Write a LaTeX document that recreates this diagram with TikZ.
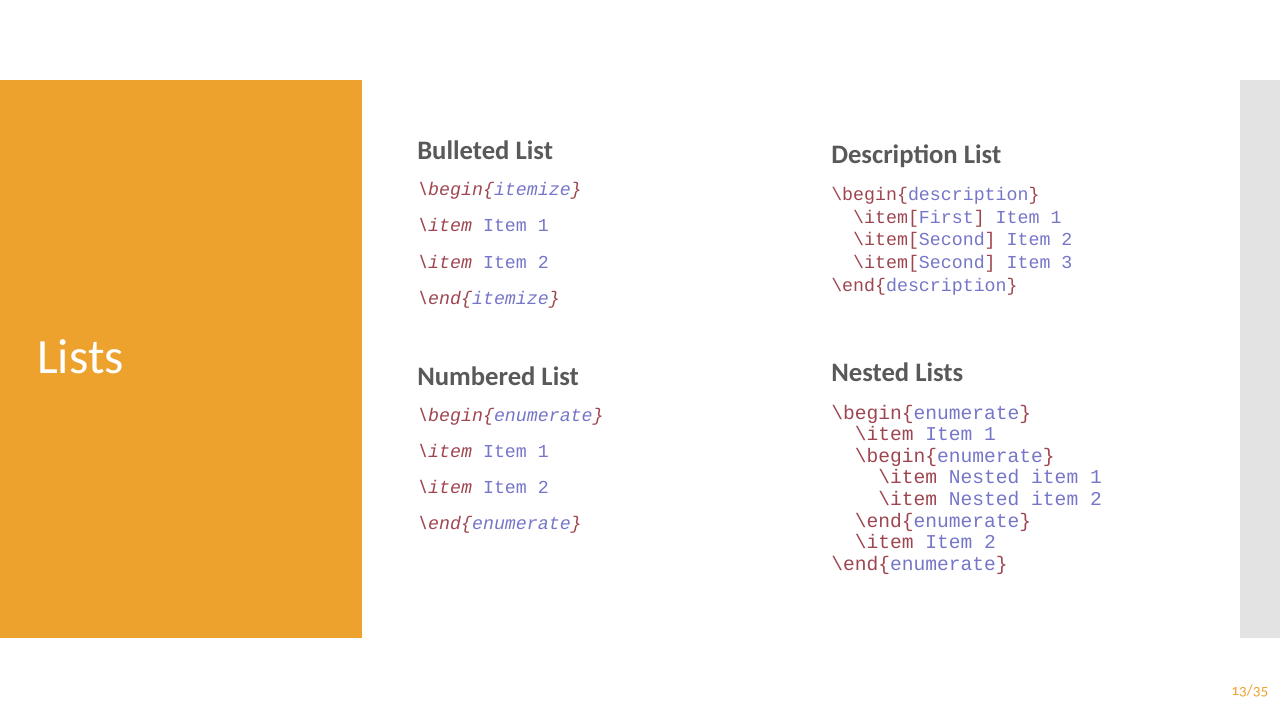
\documentclass[tikz,border=0pt]{standalone}
\usepackage{fontspec}
\setmainfont{Carlito}
\setmonofont{Liberation Mono}
\definecolor{orange}{HTML}{EEA22E}
\definecolor{stripgray}{HTML}{E3E3E3}
\definecolor{headgray}{HTML}{595959}
\definecolor{cmdred}{HTML}{9E4650}
\definecolor{argblue}{HTML}{7676C8}
\newcommand{\cmdtxt}[1]{\textcolor{cmdred}{#1}}
\newcommand{\argtxt}[1]{\textcolor{argblue}{#1}}
\newcommand{\bs}{\textbackslash}
\newcommand{\ind}{\phantom{xx}}
\newcommand{\envline}[2]{\cmdtxt{\bs #1\{}\argtxt{#2}\cmdtxt{\}}}
\newcommand{\itemline}[1]{\cmdtxt{\bs item} \argtxt{#1}}
\newcommand{\descline}[2]{\cmdtxt{\bs item[}\argtxt{#1}\cmdtxt{]} \argtxt{#2}}

\begin{document}
\begin{tikzpicture}[x=0.75pt,y=-0.75pt,
    heading/.style={anchor=base west, inner sep=0pt, text=headgray, font=\fontsize{20}{24}\selectfont\bfseries},
    code/.style={anchor=base west, inner sep=0pt, font=\fontsize{13.7}{16}\ttfamily},
    codeit/.style={code, font=\fontsize{13.7}{16}\ttfamily\itshape},
    codebig/.style={code, font=\fontsize{14.7}{17}\ttfamily}]
    \useasboundingbox (0,0) rectangle (1280,720);
    % Draw the title band and the side strip
    \fill[orange] (0,80) rectangle (362,638);
    \fill[stripgray] (1240,80) rectangle (1280,638);
    \node[anchor=base west, inner sep=0pt, text=white, font=\fontsize{37}{40}\selectfont] (title) at (37,373) {Lists};
    % Headings
    \node[heading] (bul) at (417,160) {Bulleted List};
    \node[heading] (num) at (417,385) {Numbered List};
    \node[heading] (desc) at (831,164) {Description List};
    \node[heading] (nest) at (831,381) {Nested Lists};
    % Bulleted list code
    \foreach \txt [count=\i] in {{\envline{begin}{itemize}},{\itemline{\upshape Item 1}},{\itemline{\upshape Item 2}},{\envline{end}{itemize}}}{
        \node[codeit] (bul-\i) at (417,{196+36*(\i-1)}) {\txt};
    }
    % Numbered list code
    \foreach \txt [count=\i] in {{\envline{begin}{enumerate}},{\itemline{\upshape Item 1}},{\itemline{\upshape Item 2}},{\envline{end}{enumerate}}}{
        \node[codeit] (num-\i) at (417,{421+36.3*(\i-1)}) {\txt};
    }
    % Description list code
    \foreach \txt [count=\i] in {{\envline{begin}{description}},
                                 {\ind\descline{First}{Item 1}},
                                 {\ind\descline{Second}{Item 2}},
                                 {\ind\descline{Second}{Item 3}},
                                 {\envline{end}{description}}}{
        \node[code] (desc-\i) at (831,{201+22.5*(\i-1)}) {\txt};
    }
    % Nested list code
    \foreach \txt [count=\i] in {{\envline{begin}{enumerate}},
                                 {\ind\itemline{Item 1}},
                                 {\ind\envline{begin}{enumerate}},
                                 {\ind\ind\itemline{Nested item 1}},
                                 {\ind\ind\itemline{Nested item 2}},
                                 {\ind\envline{end}{enumerate}},
                                 {\ind\itemline{Item 2}},
                                 {\envline{end}{enumerate}}}{
        \node[codebig] (nest-\i) at (831,{419+21.6*(\i-1)}) {\txt};
    }
    % Page number
    \node[anchor=base west, inner sep=0pt, text=orange, font=\fontsize{11.5}{13}\selectfont\addfontfeatures{Numbers=OldStyle}] (page) at (1231,695) {13/35};
\end{tikzpicture}
\end{document}
